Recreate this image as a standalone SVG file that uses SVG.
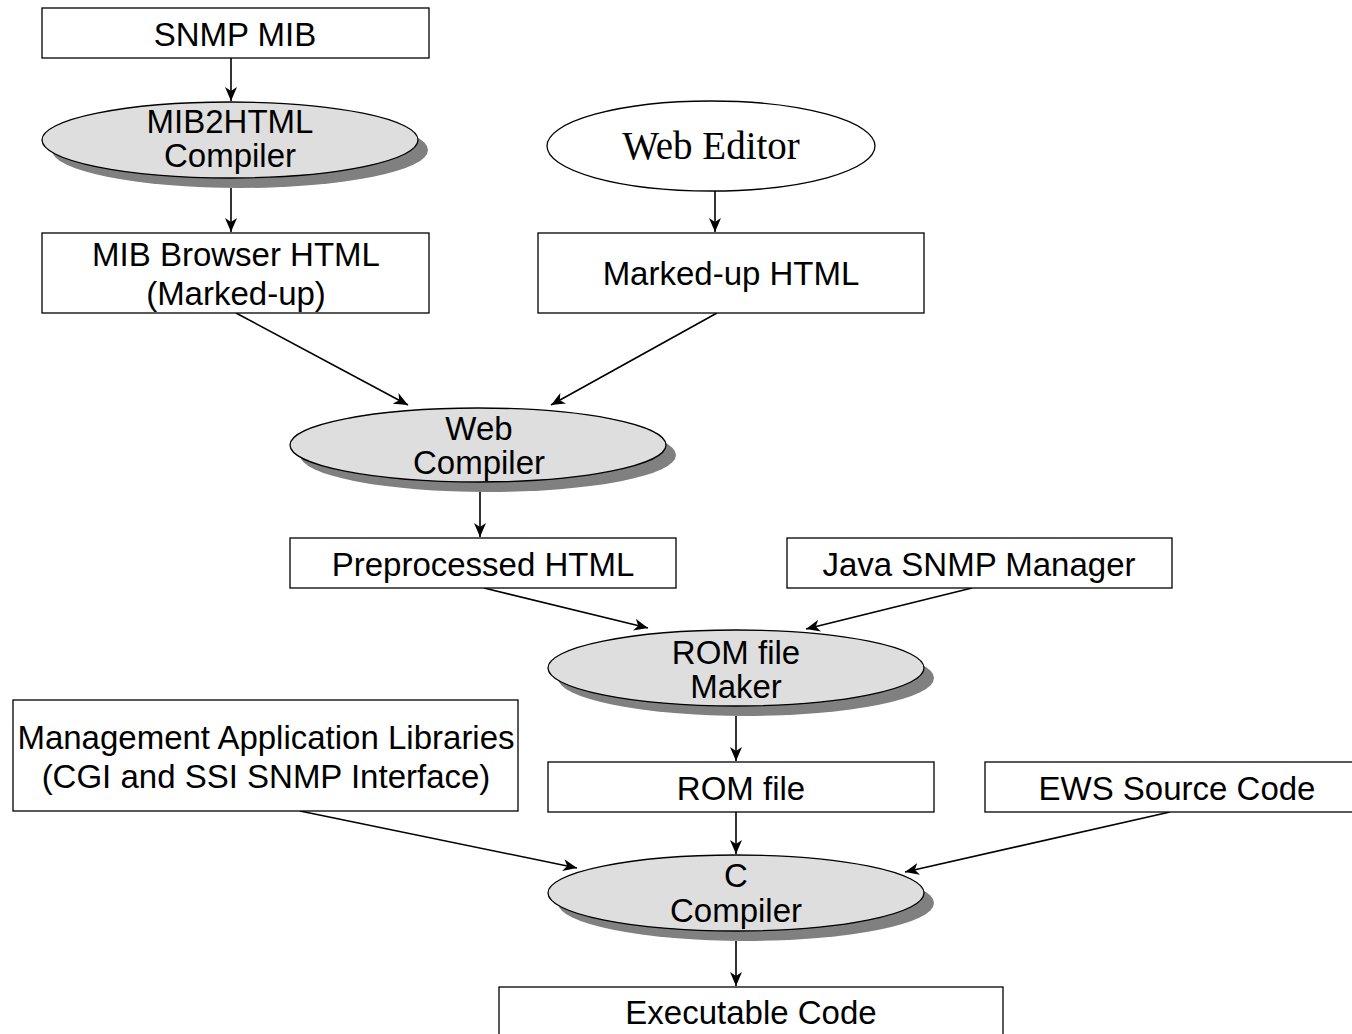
<svg xmlns="http://www.w3.org/2000/svg" width="1352" height="1034" viewBox="0 0 1352 1034">
<style>
.box{fill:#fff;stroke:#000;stroke-width:1.3}
.ell{fill:#dedede;stroke:#000;stroke-width:1.3}
.shadow{fill:#808080}
.t{font-family:"Liberation Sans",Arial,sans-serif;font-size:33px;text-anchor:middle;fill:#000}
.ts{font-family:"Liberation Serif","Times New Roman",serif;font-size:39px;text-anchor:middle;fill:#000}
.c{stroke:#000;stroke-width:1.6;fill:none;marker-end:url(#arr)}
</style>
<defs>
<marker id="arr" viewBox="0 0 14 12" refX="14" refY="6" markerWidth="14" markerHeight="12" markerUnits="userSpaceOnUse" orient="auto">
<path d="M0,0 L14,6 L0,12 L4,6 Z" fill="#000"/>
</marker>
</defs>
<rect width="1352" height="1034" fill="#fff"/>
<g id="connectors">
<line class="c" x1="231" y1="58" x2="231" y2="101"/>
<line class="c" x1="231" y1="188" x2="231" y2="232"/>
<line class="c" x1="715" y1="191" x2="715" y2="232"/>
<line class="c" x1="236" y1="313" x2="408" y2="405"/>
<line class="c" x1="717" y1="313" x2="551" y2="405"/>
<line class="c" x1="480" y1="490" x2="480" y2="537"/>
<line class="c" x1="484" y1="588" x2="648" y2="628"/>
<line class="c" x1="972" y1="588" x2="806" y2="629"/>
<line class="c" x1="736" y1="716" x2="736" y2="761"/>
<line class="c" x1="300" y1="811" x2="577" y2="868"/>
<line class="c" x1="736" y1="812" x2="736" y2="854"/>
<line class="c" x1="1170" y1="812" x2="905" y2="872"/>
<line class="c" x1="736" y1="941" x2="736" y2="986"/>
</g>
<g id="snmp-mib">
<rect class="box" x="42" y="8" width="387" height="50"/>
<text class="t" x="235" y="46">SNMP MIB</text>
</g>
<g id="mib2html">
<ellipse class="shadow" cx="240" cy="150" rx="188" ry="38"/>
<ellipse class="ell" cx="230" cy="140" rx="188" ry="38"/>
<text class="t" x="230" y="133">MIB2HTML</text>
<text class="t" x="230" y="167">Compiler</text>
</g>
<g id="web-editor">
<ellipse class="box" cx="711" cy="146" rx="164" ry="45"/>
<text class="ts" x="711" y="159">Web Editor</text>
</g>
<g id="mib-browser-html">
<rect class="box" x="42" y="233" width="387" height="80"/>
<text class="t" x="236" y="266">MIB Browser HTML</text>
<text class="t" x="236" y="305">(Marked-up)</text>
</g>
<g id="marked-up-html">
<rect class="box" x="538" y="233" width="386" height="80"/>
<text class="t" x="731" y="285">Marked-up HTML</text>
</g>
<g id="web-compiler">
<ellipse class="shadow" cx="488" cy="455" rx="188" ry="37"/>
<ellipse class="ell" cx="478" cy="445" rx="188" ry="37"/>
<text class="t" x="479" y="440">Web</text>
<text class="t" x="479" y="474">Compiler</text>
</g>
<g id="preprocessed-html">
<rect class="box" x="290" y="538" width="386" height="50"/>
<text class="t" x="483" y="576">Preprocessed HTML</text>
</g>
<g id="java-snmp-manager">
<rect class="box" x="787" y="538" width="385" height="50"/>
<text class="t" x="979" y="576">Java SNMP Manager</text>
</g>
<g id="rom-file-maker">
<ellipse class="shadow" cx="746" cy="678" rx="188" ry="38"/>
<ellipse class="ell" cx="736" cy="668" rx="188" ry="38"/>
<text class="t" x="736" y="664">ROM file</text>
<text class="t" x="736" y="698">Maker</text>
</g>
<g id="management-libraries">
<rect class="box" x="13" y="700" width="505" height="111"/>
<text class="t" x="266" y="749">Management Application Libraries</text>
<text class="t" x="266" y="788">(CGI and SSI SNMP Interface)</text>
</g>
<g id="rom-file">
<rect class="box" x="548" y="762" width="386" height="50"/>
<text class="t" x="741" y="800">ROM file</text>
</g>
<g id="ews-source-code">
<rect class="box" x="985" y="762" width="380" height="50"/>
<text class="t" x="1177" y="800">EWS Source Code</text>
</g>
<g id="c-compiler">
<ellipse class="shadow" cx="746" cy="903" rx="188" ry="38"/>
<ellipse class="ell" cx="736" cy="893" rx="188" ry="38"/>
<text class="t" x="736" y="887">C</text>
<text class="t" x="736" y="922">Compiler</text>
</g>
<g id="executable-code">
<rect class="box" x="499" y="987" width="504" height="60"/>
<text class="t" x="751" y="1024">Executable Code</text>
</g>
</svg>
